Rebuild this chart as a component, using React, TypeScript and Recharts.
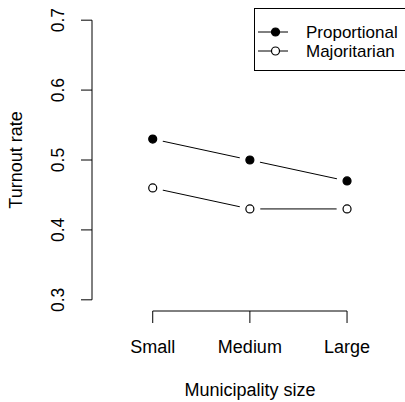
import React from 'react';
import { LineChart, Line, XAxis, YAxis, ReferenceLine, Legend } from 'recharts';

const sizes = ['Small', 'Medium', 'Large'];
const proportional = [0.53, 0.5, 0.47];
const majoritarian = [0.46, 0.43, 0.43];
const yTicks = [0.3, 0.4, 0.5, 0.6, 0.7];
const xTicks = [1, 2, 3];

const data = sizes.map((s, i) => ({
  x: i + 1,
  size: s,
  proportional: proportional[i],
  majoritarian: majoritarian[i],
}));

const FONT = '"Liberation Sans", Arial, Helvetica, sans-serif';
// R-style padded ranges
const X_MIN = 0.375;
const X_MAX = 3.576;
const Y_MIN = 0.284;
const Y_MAX = 0.716;

// point with a white halo so the line stops short of it (R type = "b")
const makeDot = (filled: boolean) => (props: any) => {
  const { cx, cy, index } = props;
  return (
    <g key={`dot-${filled ? 'p' : 'm'}-${index}`}>
      <circle cx={cx} cy={cy} r={10.5} fill="#fff" />
      <circle cx={cx} cy={cy} r={4} fill={filled ? '#000' : '#fff'} stroke="#000" strokeWidth={1.2} />
    </g>
  );
};

const YTick = (props: any) => {
  const { x, y, payload } = props;
  return (
    <text
      x={x}
      y={y}
      transform={`rotate(-90 ${x} ${y})`}
      textAnchor="middle"
      fill="#000"
      fontSize={17.5}
      fontFamily={FONT}
    >
      {payload.value.toFixed(1)}
    </text>
  );
};

const XTitle = (props: any) => {
  const { viewBox } = props;
  return (
    <text
      x={viewBox.x + viewBox.width / 2 + 2.5}
      y={viewBox.y + viewBox.height - 6}
      textAnchor="middle"
      fill="#000"
      fontSize={18}
      fontFamily={FONT}
    >
      Municipality size
    </text>
  );
};

const YTitle = (props: any) => {
  const { viewBox } = props;
  const cx = viewBox.x + 21.5;
  const cy = viewBox.y + viewBox.height / 2;
  return (
    <text
      x={cx}
      y={cy}
      transform={`rotate(-90 ${cx} ${cy})`}
      textAnchor="middle"
      fill="#000"
      fontSize={18}
      fontFamily={FONT}
    >
      Turnout rate
    </text>
  );
};

const legendItems = [
  { name: 'Proportional', filled: true },
  { name: 'Majoritarian', filled: false },
];

const renderLegend = () => (
  <svg width={160} height={64} style={{ display: 'block' }}>
    <rect x={0.5} y={0.5} width={170} height={62} fill="#fff" stroke="#000" strokeWidth={1} />
    {legendItems.map((item, i) => {
      const cy = 24 + i * 19;
      return (
        <g key={item.name}>
          <line x1={4} x2={34} y1={cy} y2={cy} stroke="#000" strokeWidth={1} />
          <circle cx={21.5} cy={cy} r={4} fill={item.filled ? '#000' : '#fff'} stroke="#000" strokeWidth={1.2} />
          <text x={52} y={cy} dy="0.36em" fill="#000" fontSize={17} fontFamily={FONT}>
            {item.name}
          </text>
        </g>
      );
    })}
  </svg>
);

export default function App() {
  return (
    <div style={{ position: 'absolute', left: 0, top: 0, width: 405, height: 402, background: '#fff' }}>
      <LineChart width={405} height={402} data={data} margin={{ top: 9, right: 2, bottom: 0, left: 0 }}>
        <XAxis
          type="number"
          dataKey="x"
          domain={[X_MIN, X_MAX]}
          allowDataOverflow
          ticks={xTicks}
          tickFormatter={(v: number) => sizes[v - 1]}
          axisLine={false}
          tickLine={{ stroke: '#000' }}
          tickSize={12}
          tickMargin={17}
          tick={{ fill: '#000', fontSize: 18, fontFamily: FONT }}
          height={91}
          label={XTitle}
        />
        <YAxis
          type="number"
          domain={[Y_MIN, Y_MAX]}
          allowDataOverflow
          ticks={yTicks}
          axisLine={false}
          tickLine={{ stroke: '#000' }}
          tickSize={11}
          tickMargin={17}
          tick={<YTick />}
          width={92}
          label={YTitle}
        />
        <ReferenceLine
          segment={[{ x: X_MIN, y: yTicks[0] }, { x: X_MIN, y: yTicks[yTicks.length - 1] }]}
          stroke="#000"
          strokeWidth={1}
          ifOverflow="visible"
        />
        <ReferenceLine
          segment={[{ x: xTicks[0], y: Y_MIN }, { x: xTicks[xTicks.length - 1], y: Y_MIN }]}
          stroke="#000"
          strokeWidth={1}
          ifOverflow="visible"
        />
        <Line
          dataKey="proportional"
          stroke="#000"
          strokeWidth={1}
          type="linear"
          dot={makeDot(true)}
          activeDot={false}
          isAnimationActive={false}
        />
        <Line
          dataKey="majoritarian"
          stroke="#000"
          strokeWidth={1}
          type="linear"
          dot={makeDot(false)}
          activeDot={false}
          isAnimationActive={false}
        />
        <Legend
          layout="vertical"
          align="center"
          verticalAlign="middle"
          content={renderLegend}
          wrapperStyle={{ left: 254, top: 8, width: 160, height: 64, margin: 0 }}
        />
      </LineChart>
    </div>
  );
}
